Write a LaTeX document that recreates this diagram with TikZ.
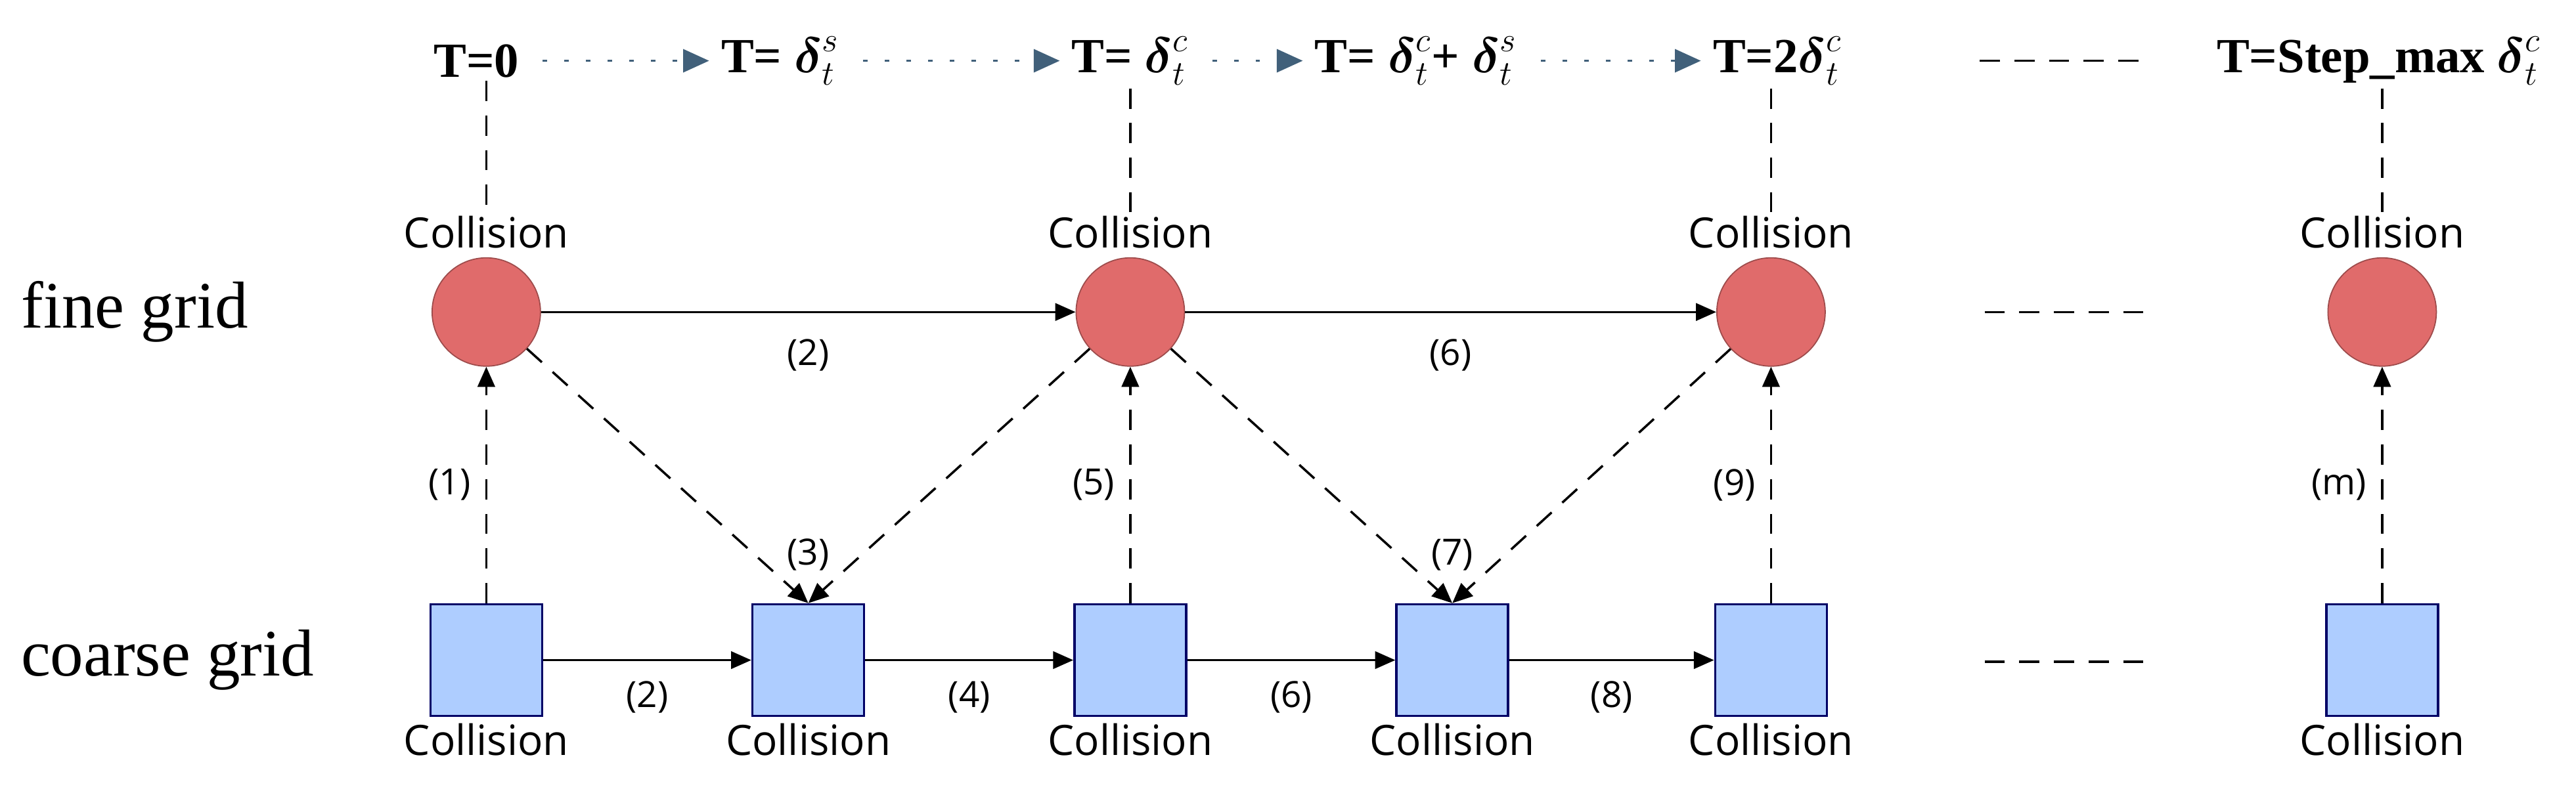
\documentclass[tikz,border=0pt]{standalone}
\usepackage{fontspec}
\usepackage{amsmath}
\setmainfont{Liberation Serif}
\newfontfamily\collfont{Open Sans}
\usetikzlibrary{arrows.meta,positioning}
\definecolor{finered}{HTML}{E06B6B}
\definecolor{coarseblue}{HTML}{AECDFF}
\definecolor{stepblue}{HTML}{41607A}
\tikzset{
	fine/.style={circle, draw=finered!70!black, fill=finered, minimum size=1.32cm, inner sep=0pt},
	coarse/.style={rectangle, draw=blue!40!black, thick, fill=coarseblue, minimum size=1.36cm, inner sep=0pt},
	coll/.style={font=\collfont\fontsize{14.5}{16}\selectfont, inner sep=1pt},
	tstep/.style={font=\bfseries\fontsize{17}{19}\selectfont, inner sep=1pt},
	num/.style={font=\collfont\fontsize{12.5}{14}\selectfont, inner sep=1pt},
	flow/.style={thick, -{Triangle[length=7pt, width=6pt]}},
	link/.style={thick, dashed, dash pattern=on 7pt off 5pt, -{Triangle[length=7pt, width=6pt]}},
	tick/.style={thick, dashed, dash pattern=on 7pt off 5pt},
	timeline/.style={stepblue, thick, dash pattern=on 1.5pt off 6pt, shorten <=7pt, shorten >=3pt, -{Triangle[length=9pt, width=8pt]}}
}
\begin{document}
\begin{tikzpicture}[x=0.02cm, y=-0.02cm]
	\useasboundingbox (0,0) rectangle (1568,484);
	% time steps
	\node [tstep] (t0) at (290,37) {T=0};
	\node [tstep] (t1) at (475,37) {T= $\boldsymbol{\delta}_t^{s}$};
	\node [tstep] (t2) at (688,37) {T= $\boldsymbol{\delta}_t^{c}$};
	\node [tstep] (t3) at (862,37) {T= $\boldsymbol{\delta}_t^{c}$+ $\boldsymbol{\delta}_t^{s}$};
	\node [tstep] (t4) at (1082,37) {T=2$\boldsymbol{\delta}_t^{c}$};
	\node [tstep] (tm) at (1448,37) {T=Step\_max $\boldsymbol{\delta}_t^{c}$};
	\coordinate (d1) at (1205,37);
	\coordinate (d2) at (1310,37);
	\draw [timeline] (t0) -- (t1);
	\draw [timeline] (t1) -- (t2);
	\draw [timeline] (t2) -- (t3);
	\draw [timeline] (t3) -- (t4);
	\draw [tick] (d1) -- (d2);
	% row labels
	\node [font=\fontsize{23}{25}\selectfont] (fg) at (82,190) {fine grid};
	\node [font=\fontsize{23}{25}\selectfont] (cg) at (102,402) {coarse grid};
	% fine grid
	\foreach \n/\x in {1/296, 2/688, 3/1078, m/1450} {
		\node [fine] (f\n) at (\x,190) {};
		\node [coll, above=2pt of f\n] (cf\n) {Collision};
	}
	% coarse grid
	\foreach \n/\x in {1/296, 2/492, 3/688, 4/884, 5/1078, m/1450} {
		\node [coarse] (c\n) at (\x,402) {};
		\node [coll, below=1pt of c\n] (cc\n) {Collision};
	}
	\draw [tick] (t0.south -| f1) -- (cf1);
	\draw [tick] (t2.south -| f2) -- (cf2);
	\draw [tick] (t4.south -| f3) -- (cf3);
	\draw [tick] (tm.south -| fm) -- (cfm);
	\coordinate (e1) at (1208,190);
	\coordinate (e2) at (1310,190);
	\coordinate (e3) at (1208,403);
	\coordinate (e4) at (1310,403);
	\draw [tick] (e1) -- (e2);
	\draw [tick] (e3) -- (e4);
	% connectors
	\draw [flow] (f1) -- node [num, below=8pt] {(2)} (f2);
	\draw [flow] (f2) -- node [num, below=8pt] {(6)} (f3);
	\draw [flow] (c1) -- node [num, below=6pt] {(2)} (c2);
	\draw [flow] (c2) -- node [num, below=6pt] {(4)} (c3);
	\draw [flow] (c3) -- node [num, below=6pt] {(6)} (c4);
	\draw [flow] (c4) -- node [num, below=6pt] {(8)} (c5);
	\draw [link] (c1) -- node [num, left=4pt] {(1)} (f1);
	\draw [link] (c3) -- node [num, left=4pt] {(5)} (f2);
	\draw [link] (c5) -- node [num, left=4pt] {(9)} (f3);
	\draw [link] (cm) -- node [num, left=4pt] {(m)} (fm);
	\draw [link] (f1) -- (c2.north);
	\draw [link] (f2) -- (c2.north);
	\draw [link] (f2) -- (c4.north);
	\draw [link] (f3) -- (c4.north);
	\node [num, above=10pt of c2] (l3) {(3)};
	\node [num, above=10pt of c4] (l7) {(7)};
\end{tikzpicture}
\end{document}
